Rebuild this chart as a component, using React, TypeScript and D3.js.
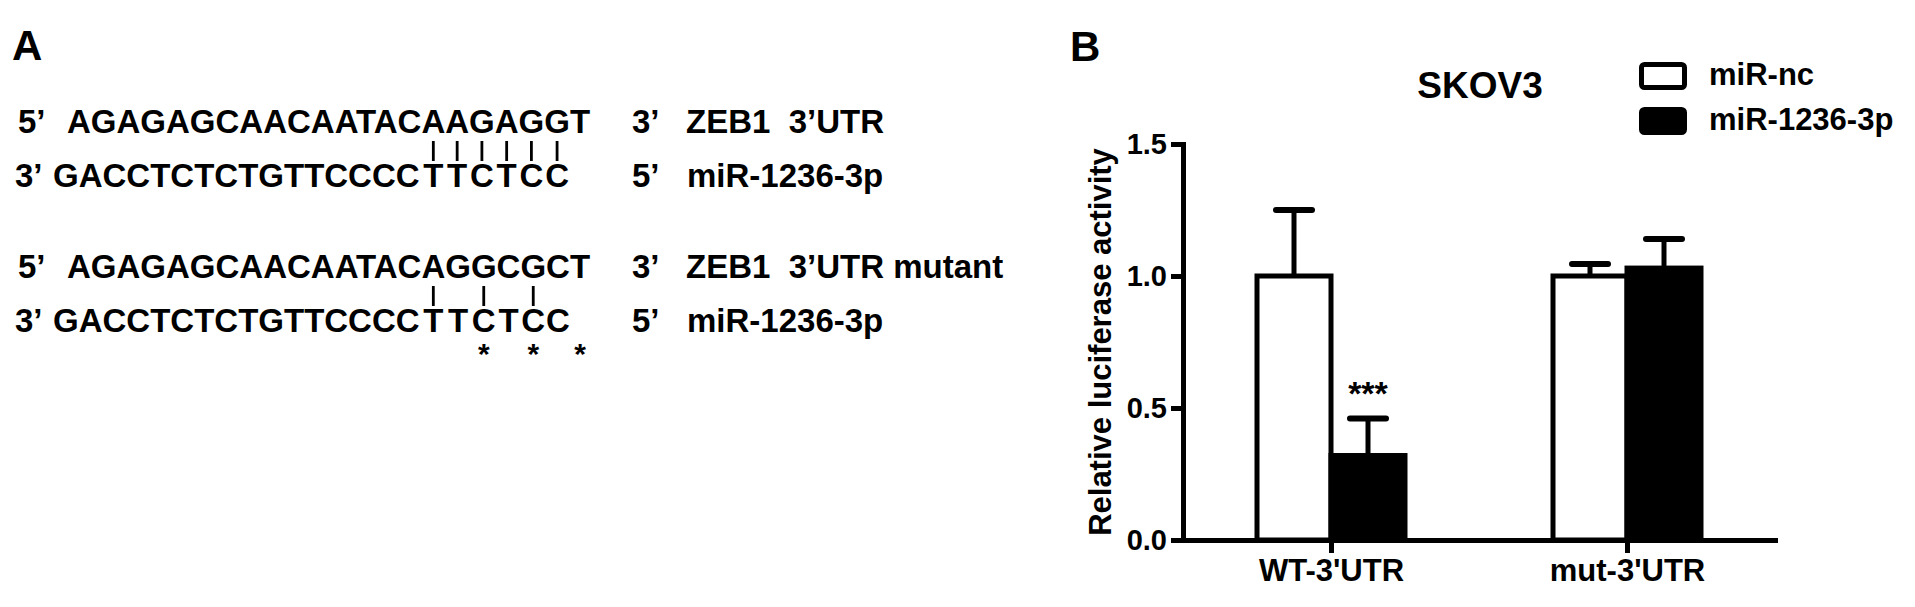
import React, { useEffect, useRef } from 'react';
import * as d3 from 'd3';

// panel A: target site and seed pairing
const wtUtr = "AGAGAGCAACAATACAAGAGGT";
const mutUtr = "AGAGAGCAACAATACAGGCGCT";
const mirBody = "GACCTCTCTGTTCCCC";
const mirSeed = ["T", "T", "C", "T", "C", "C"];
const seedStart = 15;
const wtPairs = [15, 16, 17, 18, 19, 20];
const mutPairs = [15, 17, 19];
const mutStars = [16, 18, 20];

// panel B: luciferase assay
const groups = ["WT-3'UTR", "mut-3'UTR"];
const series = ["miR-nc", "miR-1236-3p"];
const ncMean = [1.0, 1.0];
const ncErr = [0.25, 0.045];
const mirMean = [0.32, 1.03];
const mirErr = [0.14, 0.11];
const yTicks = [0, 0.5, 1.0, 1.5];
const sigMarks = ["***", ""];

const FONT = "'Liberation Sans', Arial, sans-serif";

const App = () => {
  const ref = useRef<SVGSVGElement>(null);

  useEffect(() => {
    document.body.style.margin = "0";
    const svg = d3.select(ref.current);
    svg.selectAll("*").remove();
    const root = svg.append("g")
      .attr("font-family", FONT)
      .attr("font-weight", "bold")
      .attr("fill", "#000");

    // panel letters
    root.append("text").attr("x", 12).attr("y", 60).attr("font-size", 42).text("A");
    root.append("text").attr("x", 1070).attr("y", 61).attr("font-size", 42).text("B");

    // ---------- panel A ----------
    const drawDuplex = (utr: string, pairs: number[], stars: number[], yTop: number, yBot: number, label: string) => {
      const g = root.append("g").attr("font-size", 33);
      g.append("text").attr("x", 18).attr("y", yTop).text("5\u2019");
      g.append("text").attr("x", 15).attr("y", yBot).text("3\u2019");

      const top = g.append("text").attr("x", 67).attr("y", yTop).text(utr);
      const node = top.node() as SVGTextElement;
      const centre = (i: number) => {
        const b = node.getExtentOfChar(i);
        return b.x + b.width / 2;
      };

      g.append("text").attr("x", 53).attr("y", yBot).text(mirBody);
      g.selectAll(".seed")
        .data(mirSeed)
        .enter().append("text")
        .attr("class", "seed")
        .attr("x", (d, k) => centre(seedStart + k))
        .attr("y", yBot)
        .attr("text-anchor", "middle")
        .text(d => d);

      g.selectAll(".pair")
        .data(pairs)
        .enter().append("line")
        .attr("class", "pair")
        .attr("x1", d => centre(d)).attr("x2", d => centre(d))
        .attr("y1", yTop + 8).attr("y2", yBot - 26)
        .attr("stroke", "#000").attr("stroke-width", 2.8);

      g.selectAll(".star")
        .data(stars)
        .enter().append("text")
        .attr("class", "star")
        .attr("x", d => centre(d + 1))
        .attr("y", yBot + 32)
        .attr("font-size", 30)
        .attr("text-anchor", "middle")
        .text("*");

      g.append("text").attr("x", 632).attr("y", yTop).text("3\u2019");
      g.append("text").attr("x", 686).attr("y", yTop).attr("xml:space", "preserve")
        .style("white-space", "pre").text(label);
      g.append("text").attr("x", 632).attr("y", yBot).text("5\u2019");
      g.append("text").attr("x", 687).attr("y", yBot).text("miR-1236-3p");
    };

    drawDuplex(wtUtr, wtPairs, [], 133, 187, "ZEB1  3\u2019UTR");
    drawDuplex(mutUtr, mutPairs, mutStars, 278, 332, "ZEB1  3\u2019UTR mutant");

    // ---------- panel B ----------
    const y = d3.scaleLinear().domain([0, 1.5]).range([540, 144]);
    const x0 = d3.scalePoint<string>().domain(groups).range([1183, 1775]).padding(0.5);
    const x1 = d3.scaleBand<string>().domain(series).range([-74, 74]);

    const bars = groups.flatMap((grp, i) => [
      { grp, key: series[0], mean: ncMean[i], err: ncErr[i], fill: "#fff" },
      { grp, key: series[1], mean: mirMean[i], err: mirErr[i], fill: "#000" }
    ]);

    const chart = root.append("g");
    chart.selectAll(".bar")
      .data(bars)
      .enter().append("rect")
      .attr("class", "bar")
      .attr("x", d => (x0(d.grp) as number) + (x1(d.key) as number))
      .attr("y", d => y(d.mean))
      .attr("width", x1.bandwidth())
      .attr("height", d => y(0) - y(d.mean))
      .attr("fill", d => d.fill)
      .attr("stroke", "#000")
      .attr("stroke-width", 5);

    const cx = (d: typeof bars[number]) => (x0(d.grp) as number) + (x1(d.key) as number) + x1.bandwidth() / 2;

    chart.selectAll(".err")
      .data(bars)
      .enter().append("line")
      .attr("class", "err")
      .attr("x1", cx).attr("x2", cx)
      .attr("y1", d => y(d.mean)).attr("y2", d => y(d.mean + d.err))
      .attr("stroke", "#000").attr("stroke-width", 5);

    chart.selectAll(".cap")
      .data(bars)
      .enter().append("line")
      .attr("class", "cap")
      .attr("x1", d => cx(d) - 18).attr("x2", d => cx(d) + 18)
      .attr("y1", d => y(d.mean + d.err)).attr("y2", d => y(d.mean + d.err))
      .attr("stroke", "#000").attr("stroke-width", 6).attr("stroke-linecap", "round");

    chart.selectAll(".sig")
      .data(groups)
      .enter().append("text")
      .attr("class", "sig")
      .attr("x", (d) => (x0(d) as number) + (x1(series[1]) as number) + x1.bandwidth() / 2)
      .attr("y", (d, i) => y(mirMean[i] + mirErr[i]) - 14)
      .attr("text-anchor", "middle")
      .attr("font-size", 34)
      .text((d, i) => sigMarks[i]);

    const yAxis = chart.append("g")
      .attr("transform", "translate(1183,0)")
      .call(d3.axisLeft(y).tickValues(yTicks).tickFormat(d3.format(".1f")).tickSize(12).tickSizeOuter(0).tickPadding(4));
    const xAxis = chart.append("g")
      .attr("transform", "translate(0,540)")
      .call(d3.axisBottom(x0).tickSize(13).tickSizeOuter(0).tickPadding(6));

    [yAxis, xAxis].forEach(ax => {
      ax.attr("font-family", FONT).attr("font-weight", "bold");
      ax.select(".domain").attr("stroke-width", 5).attr("stroke-linecap", "square");
      ax.selectAll(".tick line").attr("stroke-width", 5);
      ax.selectAll(".tick text").attr("fill", "#000");
    });
    yAxis.attr("font-size", 29);
    xAxis.attr("font-size", 31);

    chart.append("text")
      .attr("transform", "translate(1111,342) rotate(-90)")
      .attr("text-anchor", "middle")
      .attr("font-size", 31)
      .text("Relative luciferase activity");

    chart.append("text")
      .attr("x", 1480).attr("y", 98)
      .attr("text-anchor", "middle")
      .attr("font-size", 37)
      .text("SKOV3");

    // legend
    const legend = chart.selectAll(".legend")
      .data(series)
      .enter().append("g")
      .attr("class", "legend")
      .attr("transform", (d, i) => `translate(1641,${64 + i * 45})`);
    legend.append("rect")
      .attr("x", 0.5).attr("y", 0.5)
      .attr("width", 43).attr("height", 23)
      .attr("rx", 3)
      .attr("fill", (d, i) => (i === 0 ? "#fff" : "#000"))
      .attr("stroke", "#000").attr("stroke-width", 5);
    legend.append("text")
      .attr("x", 68).attr("y", 21)
      .attr("font-size", 31)
      .text(d => d);
  }, []);

  return <svg ref={ref} width={1915} height={607} style={{ display: "block", background: "#fff" }} />;
};

export default App;
